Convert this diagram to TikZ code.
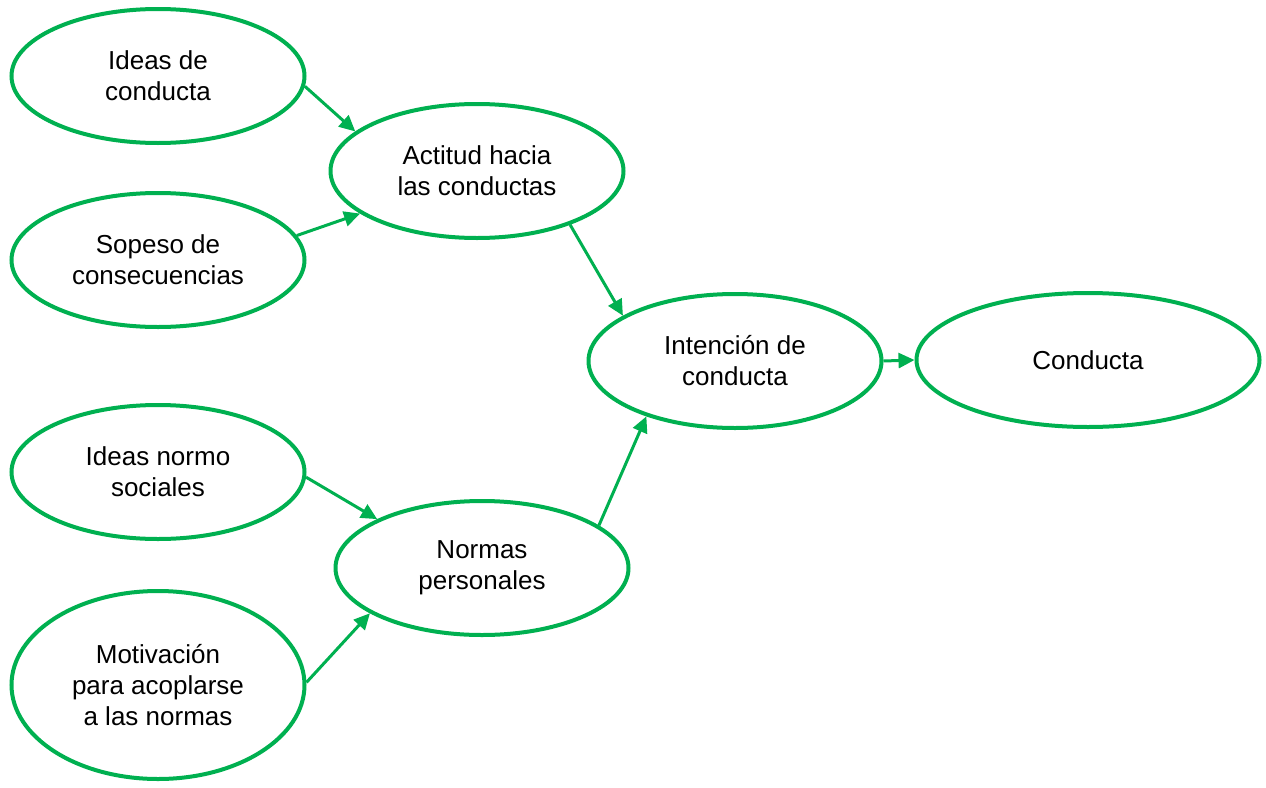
\documentclass[tikz,border=0pt]{standalone}
\usepackage{fontspec}
\setmainfont{Liberation Sans}
\usepackage{tikz}
\usetikzlibrary{shapes.geometric}
\usetikzlibrary{arrows.meta}
\definecolor{verde}{RGB}{0,176,80}

\begin{document}
\begin{tikzpicture}[x=1pt, y=-1pt,
    elipse/.style={ellipse, draw=verde, line width=4pt, inner sep=0pt, align=center,
        minimum width=293pt, minimum height=134pt, font=\fontsize{26}{31}\selectfont},
    flecha/.style={draw=verde, line width=3pt, -{Triangle[length=16pt,width=15pt]}}]

    \useasboundingbox (0,0) rectangle (1266,787);

    \node[elipse] (ideas) at (158,76) {Ideas de\\conducta};
    \node[elipse] (sopeso) at (158,260) {Sopeso de\\consecuencias};
    \node[elipse] (actitud) at (477,171) {Actitud hacia\\las conductas};
    \node[elipse] (intencion) at (735,361) {Intención de\\conducta};
    \node[elipse, minimum width=343pt] (conducta) at (1088,360) {Conducta};
    \node[elipse] (normo) at (158,472) {Ideas normo\\sociales};
    \node[elipse] (normas) at (482,568) {Normas\\personales};
    \node[elipse, minimum height=188pt] (motiv) at (158,685) {Motivación\\para acoplarse\\a las normas};

        \draw[flecha] (ideas.-4) -- (actitud.162);
        \draw[flecha] (sopeso.10) -- (actitud.200);
        \draw[flecha] (actitud.-30) -- (intencion.158);
        \draw[flecha] (intencion.east) -- (conducta.west);
        \draw[flecha] (normo.-2) -- (normas.155);
        \draw[flecha] (motiv.1) -- (normas.202);
        \draw[flecha] (normas.20) -- (intencion.212);
    \end{tikzpicture}
\end{document}
